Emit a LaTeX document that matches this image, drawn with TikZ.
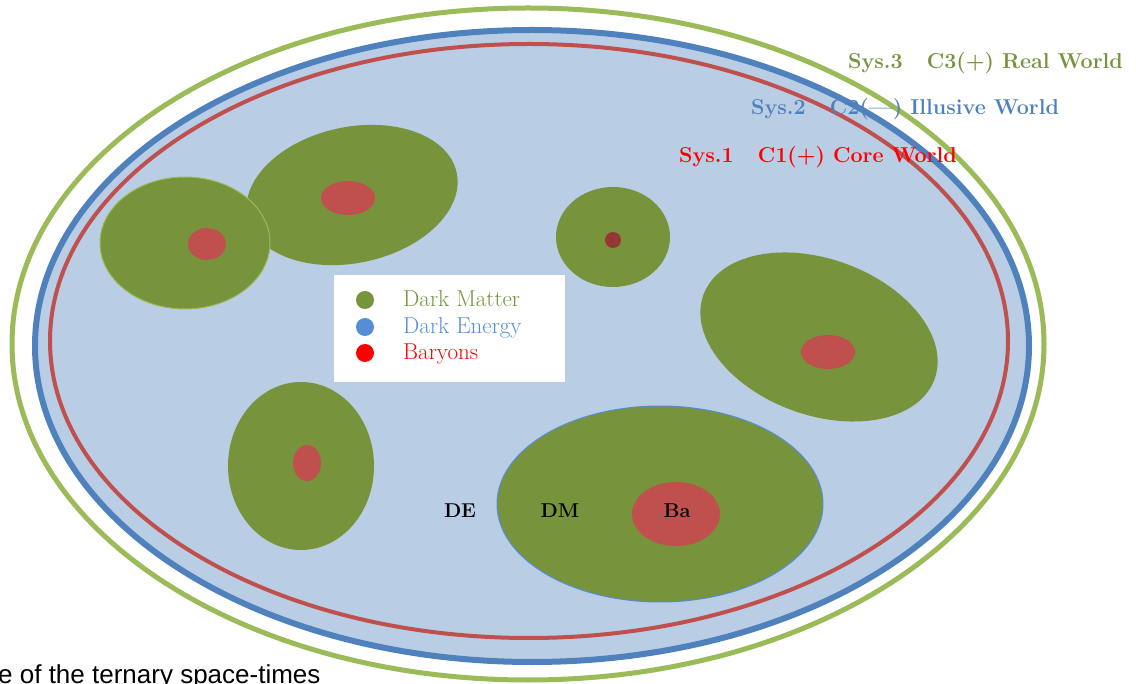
\documentclass[tikz,border=0pt]{standalone}
\usepackage{fontspec}
\newfontfamily\arialfont{Liberation Sans}
\definecolor{dmgreen}{HTML}{77933C}
\definecolor{lgreen}{HTML}{9BBB59}
\definecolor{deblue}{HTML}{4F81BD}
\definecolor{lblue}{HTML}{B9CDE5}
\definecolor{legblue}{HTML}{558ED5}
\definecolor{bared}{HTML}{C0504D}
\definecolor{darkred}{HTML}{953735}
\tikzset{
  dm/.style={fill=dmgreen, draw=none},
  ba/.style={fill=bared, draw=none},
  syslabel/.style={anchor=base west, inner sep=0pt, font=\fontsize{21.5}{25}\selectfont\bfseries},
  leglabel/.style={anchor=base west, inner sep=0pt, font=\fontsize{23}{26}\selectfont},
  legdot/.style={circle, minimum size=18pt, inner sep=0pt},
  inlabel/.style={inner sep=0pt, font=\fontsize{20}{24}\selectfont\bfseries},
}
\begin{document}
\begin{tikzpicture}[x=1pt,y=-1pt]
\useasboundingbox (0,0) rectangle (1136,684);
\clip (0,0) rectangle (1136,684);
% outer system ellipses
\draw[lgreen, line width=5pt] (528,344) ellipse [x radius=516pt, y radius=336pt];
\draw[deblue, line width=6pt, fill=lblue] (532,346) ellipse [x radius=497pt, y radius=316pt];
\draw[bared, line width=4pt] (529,341) ellipse [x radius=479pt, y radius=297pt];
% dark matter halos
\path[dm, rotate around={12:(352,195)}] (352,195) ellipse [x radius=107pt, y radius=68pt];
\draw[dm, draw=lgreen, line width=1pt] (185,243) ellipse [x radius=85pt, y radius=66pt];
\path[ba] (207,244) ellipse [x radius=19pt, y radius=16pt];
\path[ba] (348,198) ellipse [x radius=27pt, y radius=17pt];
\path[dm] (613,237) ellipse [x radius=57pt, y radius=50pt];
\path[fill=darkred] (613,240) circle [radius=8pt];
\path[dm, rotate around={-20:(819,337)}] (819,337) ellipse [x radius=123pt, y radius=78pt];
\path[ba] (828,352) ellipse [x radius=27pt, y radius=17pt];
\path[dm] (301,466) ellipse [x radius=73pt, y radius=84pt];
\path[ba] (307,463) ellipse [x radius=14pt, y radius=18pt];
\draw[dm, draw=legblue, line width=1pt] (660,504) ellipse [x radius=163pt, y radius=98pt];
\path[ba] (676,514) ellipse [x radius=44pt, y radius=32pt];
% inner labels
\node[inlabel] (de) at (460,511) {DE};
\node[inlabel] (dmlab) at (560,511) {DM};
\node[inlabel] (balab) at (677,511) {Ba};
% legend
\fill[white] (334,275) rectangle (565,382);
\node[legdot, fill=dmgreen] (d1) at (365,300) {};
\node[legdot, fill=legblue] (d2) at (365,327) {};
\node[legdot, fill=red] (d3) at (365,353) {};
\node[leglabel, text=dmgreen] (l1) at (403,307) {Dark Matter};
\node[leglabel, text=legblue] (l2) at (403,334) {Dark Energy};
\node[leglabel, text=red] (l3) at (403,360) {Baryons};
% system labels
\node[syslabel, text=dmgreen] (s3) at (848,69) {Sys.3\hspace{24pt}C3(+) Real World};
\node[syslabel, text=deblue] (s2) at (751,115) {Sys.2\hspace{24pt}C2(\textemdash) Illusive World};
\node[syslabel, text=red] (s1) at (679,163) {Sys.1\hspace{24pt}C1(+) Core World};
% caption fragment
\node[anchor=base west, inner sep=0pt, font=\arialfont\fontsize{26}{30}\selectfont] (cap) at (-2,683) {e of the ternary space-times};
\end{tikzpicture}
\end{document}
